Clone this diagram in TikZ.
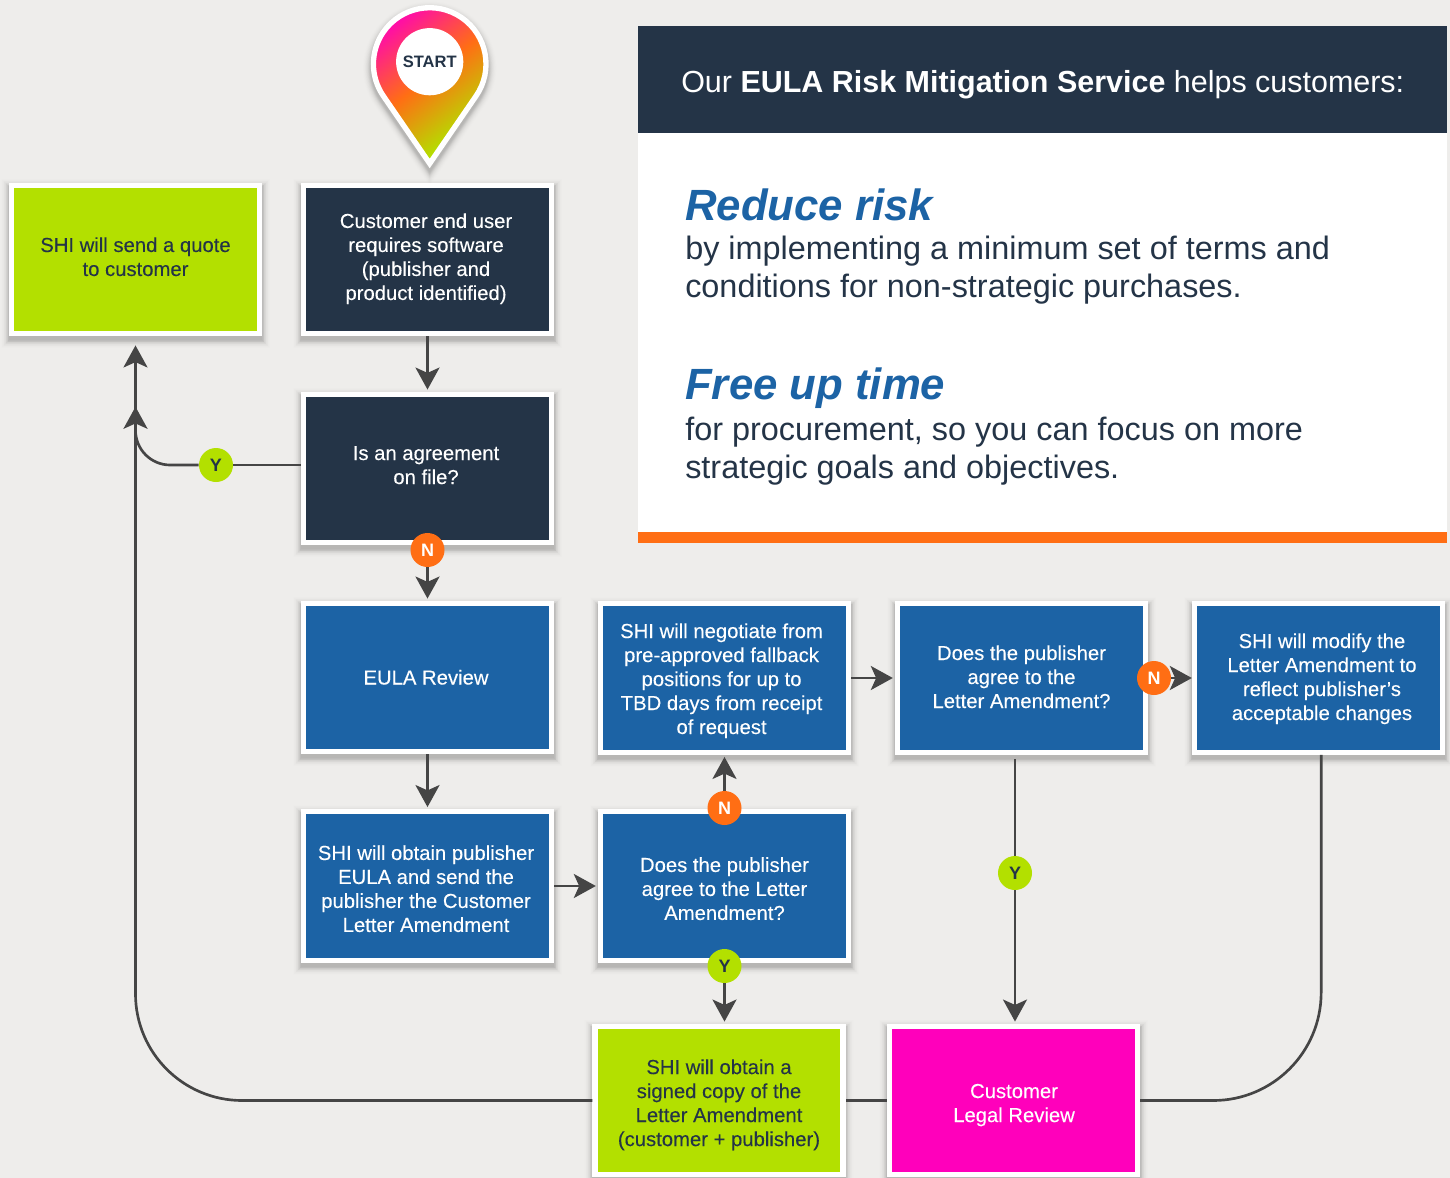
\documentclass[tikz,border=0pt]{standalone}
\usepackage{fontspec}
\setmainfont{Liberation Sans}
\newfontfamily\boxfont{Liberation Sans}[FakeBold=0.12]
\usetikzlibrary{arrows.meta}
\definecolor{pagegrey}{HTML}{EEEDEB}
\definecolor{navy}{HTML}{243447}
\definecolor{shiblue}{HTML}{1C63A5}
\definecolor{lime}{HTML}{B3E000}
\definecolor{hotpink}{HTML}{FF00BB}
\definecolor{flame}{HTML}{FF6E14}
\definecolor{wire}{HTML}{454545}
\pgfdeclareverticalshading{pinfade}{100bp}{
  color(0bp)=(lime); color(30bp)=(lime); color(52bp)=(flame);
  color(62bp)=(flame!60!hotpink); color(74bp)=(hotpink!90!flame); color(100bp)=(hotpink!90!flame)}
% text of a box, moved by #1 and #2 from the middle of the box
\newcommand{\boxtext}[3]{\raisebox{\dimexpr#2-5.25pt}[0pt][0pt]{\hspace*{#1}\begin{tabular}{@{}c@{}}#3\end{tabular}\hspace*{-#1}}}

\begin{document}
\begin{tikzpicture}[
  x=0.75pt, y=-0.75pt,
  softedge/.style 2 args={preaction={draw=black, draw opacity=#2, line width=#1, transform canvas={yshift=-3pt}}},
  softshadow/.style={softedge={4pt}{.03}, softedge={5pt}{.03}, softedge={6pt}{.03}, softedge={7pt}{.03}, softedge={8pt}{.025},
    softedge={9pt}{.02}, softedge={10pt}{.015}, softedge={11pt}{.012}, softedge={12pt}{.01}, softedge={13pt}{.008},
    softedge={14pt}{.006}, softedge={15pt}{.005}, softedge={16pt}{.004}},
  box/.style={
    softshadow, draw=white, line width=4pt, minimum width=186pt, minimum height=111.4pt,
    inner sep=0pt, text=white, font=\boxfont\fontsize{15.2}{18}\selectfont,
  },
  darkbox/.style={box, fill=navy},
  bluebox/.style={box, fill=shiblue},
  limebox/.style={box, fill=lime, text=navy},
  flow/.style={draw=wire, line width=2pt, -{Stealth[length=16.5pt, width=18pt, inset=4pt]}, shorten >=1.5pt},
  link/.style={draw=wire, line width=2pt},
  yes/.style={circle, fill=lime, text=navy, minimum size=25.5pt, inner sep=0pt, font=\fontsize{13.5}{14}\selectfont\bfseries},
  no/.style={yes, fill=flame, text=white},
  claim/.style={anchor=base west, inner sep=0pt, text=shiblue, font=\fontsize{32.8}{36}\selectfont\bfseries\itshape},
  claimtext/.style={anchor=base west, inner sep=0pt, align=left, text=navy, font=\fontsize{24.3}{28.5}\selectfont},
  ]
  \useasboundingbox (0,0) rectangle (1450,1178);
  \fill[pagegrey] (0,0) rectangle (1450,1178);

  % start pin
  \draw[softshadow, white, line width=4pt, miter limit=10, shading=pinfade, shading angle=38]
    (429.7,163.5) -- (476.1,95.9) arc[start angle=34.5, end angle=-214.5, radius=56.3] -- cycle;
  \node[circle, fill=white, minimum size=50.4pt, inner sep=0pt, text=navy,
    font=\fontsize{12.4}{14}\selectfont\bfseries] (start) at (429.7,61.7) {START};

  % service panel
  \fill[white] (638,133) rectangle (1447,532);
  \fill[navy] (638,26) rectangle (1447,133);
  \fill[flame] (638,532) rectangle (1447,543);
  \node[anchor=base west, inner sep=0pt, text=white, font=\fontsize{22.85}{28}\selectfont] (panelhead) at (681,92)
    {Our \textbf{EULA Risk Mitigation Service} helps customers:};
  \node[claim] (risk) at (685,220) {Reduce risk};
  \node[claimtext] (risktext) at (685,297) {by implementing a minimum set of terms and\\conditions for non-strategic purchases.};
  \node[claim] (time) at (685,399) {Free up time};
  \node[claimtext] (timetext) at (685,478) {for procurement, so you can focus on more\\strategic goals and objectives.};

  % boxes
  \node[limebox] (quote) at (135.5,259.5) {\boxtext{0pt}{1.9pt}{SHI will send a quote\\to customer}};
  \node[darkbox] (need) at (427.5,259.5) {\boxtext{-1.1pt}{1.9pt}{Customer end user\\requires software\\(publisher and\\product identified)}};
  \node[darkbox] (file) at (427.5,468.5) {\boxtext{-1.1pt}{2.6pt}{Is an agreement\\on file?}};
  \node[bluebox] (eula) at (427.5,677.5) {\boxtext{-1.1pt}{0pt}{EULA Review}};
  \node[bluebox] (obtain) at (427.5,886) {\boxtext{-1.1pt}{-2.2pt}{SHI will obtain publisher\\EULA and send the\\publisher the Customer\\Letter Amendment}};
  \node[bluebox] (agree) at (724.5,886) {\boxtext{0pt}{-2.2pt}{Does the publisher\\agree to the Letter\\Amendment?}};
  \node[bluebox] (negotiate) at (724.5,678) {\boxtext{-2.2pt}{-.75pt}{SHI will negotiate from\\pre-approved fallback\\positions for up to\\TBD days from receipt\\of request}};
  \node[bluebox] (publisher) at (1021.5,678) {\boxtext{0pt}{.75pt}{Does the publisher\\agree to the\\Letter Amendment?}};
  \node[bluebox] (modify) at (1318.5,678) {\boxtext{2.6pt}{.75pt}{SHI will modify the\\Letter Amendment to\\reflect publisher’s\\acceptable changes}};
  \node[limebox] (signed) at (719,1100.5) {\boxtext{0pt}{-1.9pt}{SHI will obtain a\\signed copy of the\\Letter Amendment\\(customer + publisher)}};
  \node[box, fill=hotpink] (legal) at (1013.5,1100.5) {\boxtext{.4pt}{-1.9pt}{Customer\\Legal Review}};

  % yes / no marks
  \node[yes] (yfile) at (216,465) {Y};
  \node[no] (nfile) at (427.5,550) {N};
  \node[no] (nagree) at (724.5,808) {N};
  \node[yes] (yagree) at (724.5,966) {Y};
  \node[no] (npublisher) at (1154,678) {N};
  \node[yes] (ypublisher) at (1015,873) {Y};

  % connectors
  \draw[flow] (need) -- (file);
  \draw[link] (file.west |- yfile) -- (yfile);
  \draw[flow, rounded corners=26pt] (yfile) -| ([yshift=-51.25pt]quote.south);
  \draw[flow] (nfile) -- (eula);
  \draw[flow] (eula) -- (obtain);
  \draw[flow] (obtain) -- (agree);
  \draw[flow] (nagree) -- (nagree |- negotiate.south);
  \draw[flow] (yagree) -- (yagree |- signed.north);
  \draw[flow] (negotiate) -- (publisher);
  \draw[flow, shorten >=0pt] (npublisher) -- (modify);
  \draw[link] ([yshift=-3pt]ypublisher |- publisher.south) -- (ypublisher);
  \draw[flow] (ypublisher) -- (ypublisher |- legal.north);
  \draw[link, rounded corners=81pt] ([xshift=2pt]modify.south) |- (legal.east);
  \draw[link] (legal.west) -- (signed.east);
  \draw[flow, shorten >=6.75pt, rounded corners=80pt] (signed.west) -| (quote.south);
\end{tikzpicture}
\end{document}
